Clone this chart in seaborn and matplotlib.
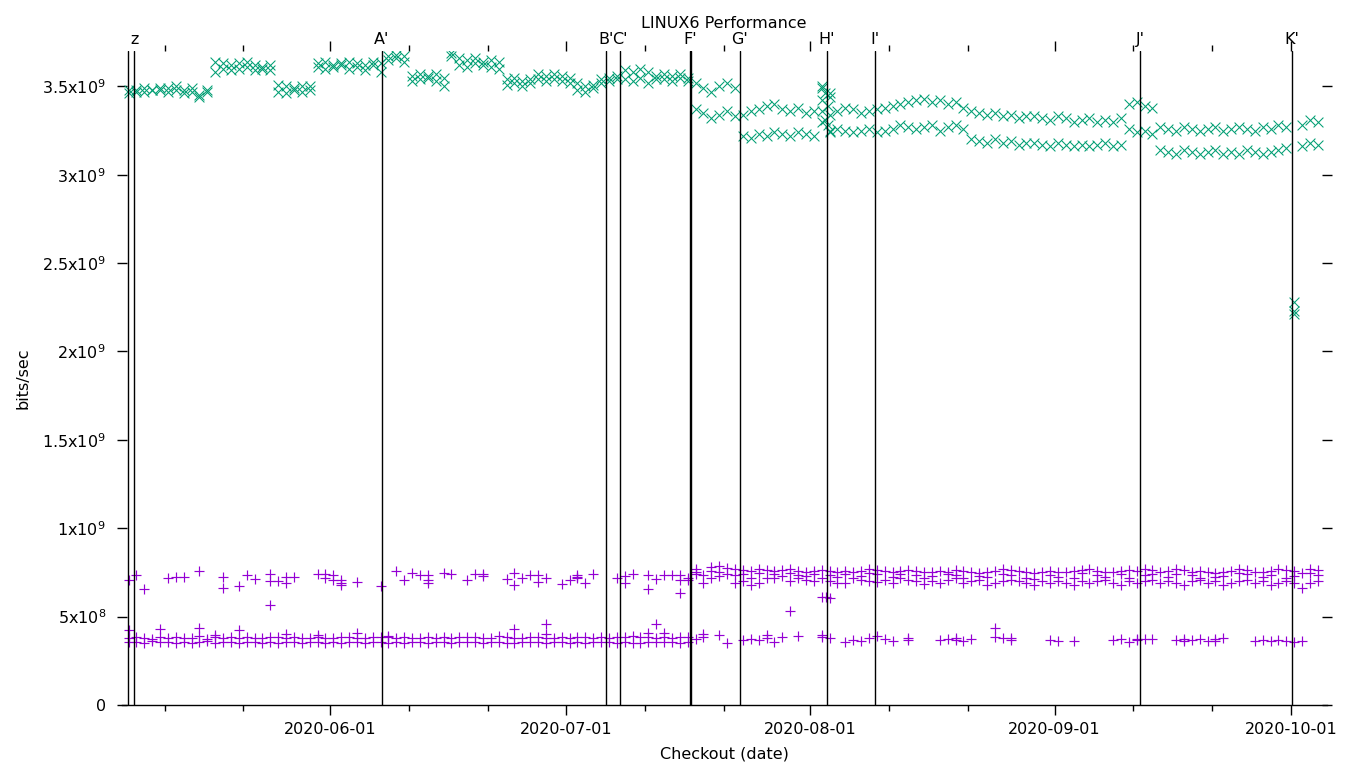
import numpy as np
import pandas as pd
import matplotlib
matplotlib.use("Agg")
import matplotlib.pyplot as plt
import matplotlib.dates as mdates
import matplotlib.transforms as mtransforms
import seaborn as sns

sns.set_theme(style="white")
plt.rcParams["font.family"] = ["DejaVu Sans"]
plt.rcParams["text.color"] = "black"
plt.rcParams["axes.labelcolor"] = "black"
plt.rcParams["xtick.color"] = "black"
plt.rcParams["ytick.color"] = "black"

# first checkout of the run, all offsets below are days after it
start = pd.Timestamp("2020-05-06 10:00")

# upper band (x marks), two readings per checkout day, in 1e7 bits/sec
up_row1 = [348, 348, 349, 348, 349, 349, 350, 348, 347, 345, 348,
           364, 363, 362, 363, 364, 362, 361, 362,
           351, 350, 349, 350, 350,
           363, 364, 362, 363, 364, 363, 362, 364, 363,
           367, 368, 367,
           356, 357, 356, 357, 355,
           369,
           366, 365, 366, 364, 365, 364,
           354, 355, 353, 354,
           357, 356, 357, 356, 355, 352, 350, 351, 354, 355, 356, 359, 358, 360, 358, 356, 357, 356, 357,
           355,
           352, 349, 347, 350, 352, 349,
           334, 336, 337, 339, 340,
           337, 336, 338, 335, 336,
           349, 346,
           336, 338, 337, 335, 336, 337, 338, 339,
           340, 341, 342, 343, 341, 342, 340, 341, 338,
           336, 335, 334, 335, 333, 334, 332, 333,
           333, 332, 331, 333, 332, 330, 331, 332, 330, 331, 330, 332,
           340, 341, 339, 338,
           327, 326, 325, 327, 326, 325, 326, 327, 325, 326, 327, 326, 325, 327, 326, 328, 327,
           228,
           328, 331, 330]
up_row2 = [346, 347, 347, 348, 348, 347, 348, 346, 349, 344, 347,
           358, 360, 359, 360, 361, 359, 360, 359,
           347, 346, 348, 347, 348,
           361, 360, 361, 362, 360, 361, 359, 362, 358,
           365, 366, 364,
           353, 354, 355, 353, 350,
           367,
           362, 361, 363, 362, 361, 360,
           351, 352, 350, 352,
           354, 353, 354, 353, 352, 348, 347, 349, 352, 353, 354, 354, 353, 355, 352, 354, 354, 353, 355,
           353,
           337, 335, 332, 334, 336, 333,
           322, 321, 323, 322, 324,
           323, 322, 324, 323, 322,
           330, 325,
           326, 325, 324, 325, 326, 324, 325, 326,
           328, 327, 326, 327, 328, 325, 327, 328, 326,
           320, 319, 318, 320, 318, 319, 317, 318,
           318, 317, 316, 318, 317, 316, 317, 316, 317, 318, 316, 317,
           326, 324, 325, 323,
           314, 313, 312, 314, 313, 312, 313, 314, 312, 313, 312, 314, 313, 312, 313, 314, 315,
           221,
           316, 318, 317]
# extra x marks (cluster at H' and the Oct 1 drop)
up_extra_day = [88.0, 88.0, 88.0, 88.4, 88.4, 88.8, 88.8, 89.0, 89.0, 89.0, 148.0]
up_extra_val = [350, 342, 336, 346, 331, 339, 328, 344, 334, 324, 223]

# lower band (+ marks), in 1e6 bits/sec
# dense low rows before F' (days 0..71)
low_row1 = [380, 385, 378, 376, 382, 380, 384, 378, 380, 388,
            376, 382, 379, 385, 380, 383, 378, 381, 384, 386,
            379, 382, 380, 377, 384, 381, 379, 383, 385, 380,
            378, 382, 384, 386, 380, 383, 379, 381, 385, 378,
            382, 380, 384, 386, 383, 379, 381, 388, 382, 380,
            379, 384, 386, 381, 378, 383, 380, 385, 382, 379,
            384, 381, 383, 386, 388, 385, 382, 380, 384, 381,
            383, 385]
low_row2 = [358, 355, 352, 360, 356, 354, 350, 357, 353, 355,
            360, 352, 356, 354, 351, 358, 355, 353, 357, 350,
            354, 356, 352, 358, 355, 353, 357, 351, 356, 354,
            352, 358, 355, 350, 357, 353, 356, 354, 352, 358,
            355, 351, 357, 354, 356, 352, 358, 355, 353, 350,
            356, 354, 357, 352, 355, 358, 353, 356, 351, 354,
            357, 355, 352, 356, 353, 350, 355, 357, 354, 356,
            352, 355]
# dense high rows after F' (days 72..151)
high_row1 = [770, 735, 780, 785, 775, 770, 765, 760, 770, 765,
             760, 765, 770, 760, 755, 760, 765, 760, 755, 760,
             755, 760, 770, 765, 760, 755, 760, 765, 760, 755,
             750, 760, 755, 765, 760, 750, 745, 755, 760, 770,
             765, 760, 750, 745, 755, 760, 750, 755, 760, 765,
             770, 760, 755, 750, 760, 765, 760, 770, 765, 755,
             760, 770, 765, 755, 760, 750, 745, 755, 760, 770,
             765, 755, 750, 760, 770, 765, 760, 745, 770, 765]
high_row2 = [740, 690, 720, 730, 740, 690, 700, 680, 690, 720,
             720, 730, 700, 720, 710, 700, 720, 700, 690, 690,
             720, 705, 700, 695, 710, 690, 720, 705, 700, 685,
             700, 690, 710, 720, 690, 700, 710, 680, 690, 700,
             710, 700, 690, 680, 700, 690, 700, 690, 680, 700,
             690, 700, 710, 690, 680, 700, 690, 700, 710, 690,
             700, 690, 680, 700, 710, 690, 700, 680, 690, 700,
             710, 690, 700, 680, 690, 700, 690, 660, 690, 700]
high_row3 = [755, None, 760, 750, None, 735, 740, 720, 745, None,
             740, None, 745, 735, 730, 740, None, 735, 725, 740,
             None, 730, 745, 740, None, 725, 740, None, 735, 720,
             730, None, 740, 735, 720, None, 730, 725, None, 740,
             735, None, 720, 715, None, 735, 725, None, 720, 745,
             None, 735, 725, None, 740, 720, None, 735, 740, None,
             725, 740, None, 735, 720, None, 725, 730, None, 745,
             740, None, 725, 735, None, 720, 730, None, 745, 735]
# sparse + marks: high readings before F'
hi_early_day = [0, 1, 2, 5, 6, 7, 9, 12, 12, 14, 15, 16, 18, 18, 18, 19, 20, 20, 21,
                24, 25, 25, 26, 26, 27, 27, 27, 29, 32, 34, 35, 36, 37, 38, 38, 38,
                40, 41, 43, 44, 45, 45, 48, 49, 49, 50, 51, 52, 52, 53, 55, 56,
                57, 57, 57, 58, 59, 62, 63, 63, 64, 66, 66, 67, 68, 69, 70, 70, 70, 71, 71]
hi_early_val = [706, 734, 654, 716, 725, 725, 757, 725, 661, 674, 734, 712, 743, 700, 565, 700, 725, 690, 725,
                743, 743, 716, 734, 706, 706, 690, 680, 694, 674, 757, 706, 748, 734, 738, 706, 690,
                748, 743, 706, 743, 743, 730, 712, 748, 680, 720, 734, 734, 697, 716, 683, 706,
                734, 725, 716, 690, 743, 716, 730, 690, 743, 734, 654, 712, 734, 734, 734, 706, 632, 720, 706]
# sparse + marks: low readings after F', stray points before it and outliers
lo_late_day = [72, 73, 73, 75, 76, 78, 79, 80, 81, 81, 82, 83, 85, 88, 88, 89, 91, 92, 93, 94,
               95, 96, 97, 99, 99, 103, 104, 105, 105, 106, 107, 110, 110, 111, 112, 112,
               117, 118, 120, 125, 126, 127, 128, 128, 129, 130, 133, 134, 134, 135, 136,
               137, 138, 138, 139, 143, 144, 145, 146, 147, 148, 149,
               0, 4, 9, 11, 14, 20, 24, 29, 33, 49, 53, 53, 66, 67, 68,
               84, 88.0, 88.5, 89.1]
lo_late_val = [372, 385, 400, 395, 352, 370, 372, 365, 378, 395, 358, 382, 392, 396, 385, 380, 358, 370, 360, 378,
               388, 372, 360, 378, 366, 370, 375, 378, 368, 364, 372, 385, 437, 380, 368, 380,
               370, 362, 364, 370, 376, 358, 376, 365, 372, 376, 366, 372, 360, 368, 376,
               364, 372, 362, 378, 362, 368, 364, 370, 360, 355, 362,
               424, 430, 437, 398, 424, 400, 395, 405, 392, 430, 460, 400, 410, 460, 410,
               530, 612, 612, 608]

# tagged releases drawn as vertical lines
tag_names = ["", "z", "A'", "B'", "C'", "F'", "", "G'", "H'", "I'", "J'", "K'"]
tag_times = ["2020-05-06 08:40", "2020-05-07 03:00", "2020-06-07 14:00", "2020-07-06 01:00",
             "2020-07-07 20:00", "2020-07-16 17:00", "2020-07-16 20:00", "2020-07-23 01:00",
             "2020-08-03 02:00", "2020-08-09 05:00", "2020-09-11 20:00", "2020-10-01 03:00"]

ytick_vals = [0, 0.5e9, 1.0e9, 1.5e9, 2.0e9, 2.5e9, 3.0e9, 3.5e9]
ytick_text = ["0", "5x10$^{8}$", "1x10$^{9}$", "1.5x10$^{9}$", "2x10$^{9}$",
              "2.5x10$^{9}$", "3x10$^{9}$", "3.5x10$^{9}$"]

teal = "#009e73"
purple = "#9400d3"


def to_dates(days):
    return start + pd.to_timedelta(np.asarray(days, dtype=float), unit="D")


n_up = len(up_row1)
upper = pd.DataFrame({
    "date": np.concatenate([to_dates(np.arange(n_up)), to_dates(np.arange(len(up_row2))),
                            to_dates(up_extra_day)]),
    "bps": np.concatenate([up_row1, up_row2, up_extra_val]).astype(float) * 1e7,
})

hr = [np.nan if v is None else v for v in high_row3]
lower = pd.DataFrame({
    "date": np.concatenate([to_dates(np.arange(len(low_row1))), to_dates(np.arange(len(low_row2))),
                            to_dates(72 + np.arange(len(high_row1))), to_dates(72 + np.arange(len(high_row2))),
                            to_dates(72 + np.arange(len(hr))), to_dates(hi_early_day), to_dates(lo_late_day)]),
    "bps": np.concatenate([low_row1, low_row2, high_row1, high_row2, hr,
                           hi_early_val, lo_late_val]).astype(float) * 1e6,
}).dropna()

fig, ax = plt.subplots(figsize=(13.6, 7.68), dpi=100)
fig.subplots_adjust(left=122 / 1360, right=1327 / 1360, bottom=63 / 768, top=717 / 768)

sns.scatterplot(data=lower, x="date", y="bps", marker="+", color=purple, s=42,
                linewidth=0.85, ax=ax, legend=False, zorder=2)
sns.scatterplot(data=upper, x="date", y="bps", marker="x", color=teal, s=50,
                linewidth=0.75, ax=ax, legend=False, zorder=2)

trans = mtransforms.blended_transform_factory(ax.transData, ax.transAxes)
for name, t in zip(tag_names, tag_times):
    t = pd.Timestamp(t)
    ax.axvline(t, color="black", lw=1, zorder=3)
    if name:
        ax.text(t, 1.006, name, transform=trans, ha="center", va="bottom", fontsize=11.5)

ax.set_xlim(pd.Timestamp("2020-05-05 14:00"), pd.Timestamp("2020-10-05 14:00"))
ax.set_ylim(0, 3.7e9)
ax.set_yticks(ytick_vals)
ax.set_yticklabels(ytick_text)

ax.xaxis.set_major_locator(mdates.MonthLocator())
ax.xaxis.set_major_formatter(mdates.DateFormatter("%Y-%m-%d"))
ax.xaxis.set_minor_locator(mdates.DayLocator(bymonthday=[11, 21]))
ax.tick_params(axis="x", which="major", direction="out", length=7, width=1,
               top=True, bottom=True, labelsize=11.5, pad=5, color="black")
ax.tick_params(axis="x", which="minor", direction="out", length=4, width=1,
               top=True, bottom=True, color="black")
ax.tick_params(axis="y", which="major", direction="inout", length=7, width=1,
               left=True, right=True, labelsize=11.5, pad=8, color="black")

for side in ["left", "right", "top"]:
    ax.spines[side].set_visible(False)
ax.spines["bottom"].set_color("black")
ax.spines["bottom"].set_linewidth(1)

ax.set_xlabel("Checkout (date)", fontsize=11.5)
ax.set_ylabel("bits/sec", fontsize=11.5)
ax.xaxis.set_label_coords(0.5, -0.064)
ax.yaxis.set_label_coords(-0.076, 0.5)
ax.xaxis.label.set_va("top")

fig.text(724 / 1360, 1 - 24 / 768, "LINUX6 Performance", ha="center", va="center", fontsize=11.5)

fig.savefig("out.png", dpi=100)
